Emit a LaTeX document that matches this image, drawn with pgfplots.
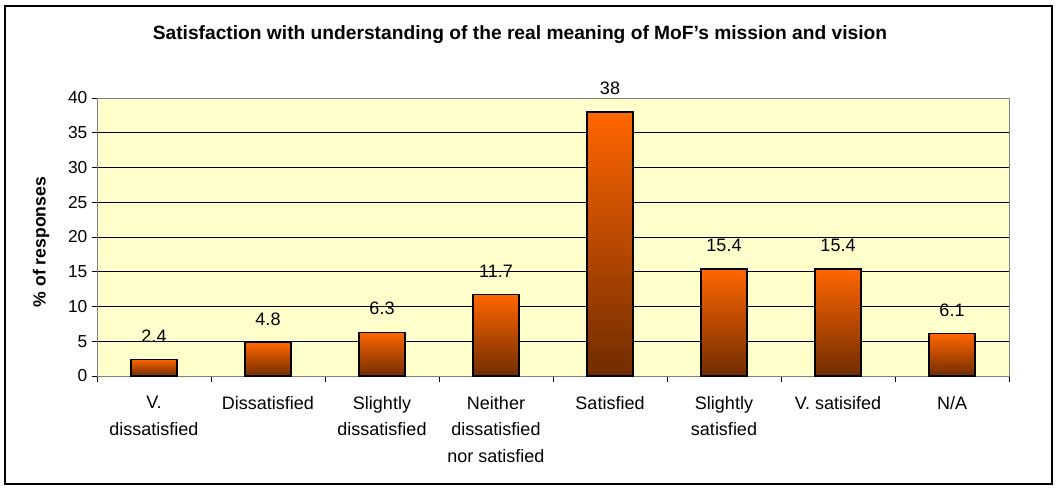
\documentclass[border=0pt]{standalone}
\usepackage{fontspec}
\setmainfont{Liberation Sans}
\usepackage{pgfplots}
\pgfplotsset{compat=1.18}

\definecolor{plotbg}{RGB}{255,255,204}
\definecolor{barTop}{RGB}{255,102,0}
\definecolor{barBot}{RGB}{112,44,0}

% one bar per plot, so each bar gets its own top-to-bottom gradient
\pgfplotsset{bar/.style={ybar, bar width=34.5pt, draw=black, line width=1pt,
    top color=barTop, bottom color=barBot}}

\begin{document}
\begin{tikzpicture}
\useasboundingbox (0,0) rectangle (794.25pt,365.25pt);
\draw[line width=1.1pt] (3.75pt,2.25pt) rectangle (789pt,360.75pt);

\begin{axis}[
    at={(72.75pt,83.25pt)}, anchor=south west,
    scale only axis,
    width=684pt, height=208.5pt,
    xmin=-0.5, xmax=7.5,
    ymin=0, ymax=40,
    ytick={0,5,...,40},
    xtick={0,...,7},
    xticklabels={{V.\\dissatisfied}, Dissatisfied, {Slightly\\dissatisfied},
        {Neither\\dissatisfied\\nor satisfied}, Satisfied, {Slightly\\satisfied},
        V. satisifed, N/A},
    minor xtick={-0.5,0.5,...,7.5},
    major x tick style={draw=none},
    minor x tick style={black, line width=0.6pt},
    ytick style={black, line width=0.6pt},
    tick pos=left,
    tick align=outside,
    major tick length=3.75pt,
    minor tick length=4.5pt,
    /pgf/number format/assume math mode=true,
    xticklabel style={align=center, font=\fontsize{13.5}{19.9}\selectfont, yshift=-8pt},
    yticklabel style={font=\fontsize{13}{15}\selectfont},
    ymajorgrids,
    grid style={black, line width=0.6pt},
    axis line style={draw=black!50, line width=0.75pt},
    axis background/.style={fill=plotbg},
    ylabel={\% of responses},
    every axis y label/.style={at={(axis description cs:-0.0614,0.482)}, rotate=90,
        anchor=center, font=\bfseries\fontsize{13.2}{16}\selectfont},
    nodes near coords,
    every node near coord/.append style={font=\fontsize{13.5}{16}\selectfont, yshift=9pt, black},
]
\addplot[bar] coordinates {(0, 2.4)};
\addplot[bar] coordinates {(1, 4.8)};
\addplot[bar] coordinates {(2, 6.3)};
\addplot[bar] coordinates {(3, 11.7)};
\addplot[bar] coordinates {(4, 38)};
\addplot[bar] coordinates {(5, 15.4)};
\addplot[bar] coordinates {(6, 15.4)};
\addplot[bar] coordinates {(7, 6.1)};
\end{axis}

\node[font=\bfseries\fontsize{14.4}{17}\selectfont] at (390pt,339pt)
    {Satisfaction with understanding of the real meaning of MoF{\char"0027}s mission and vision};
\end{tikzpicture}
\end{document}
